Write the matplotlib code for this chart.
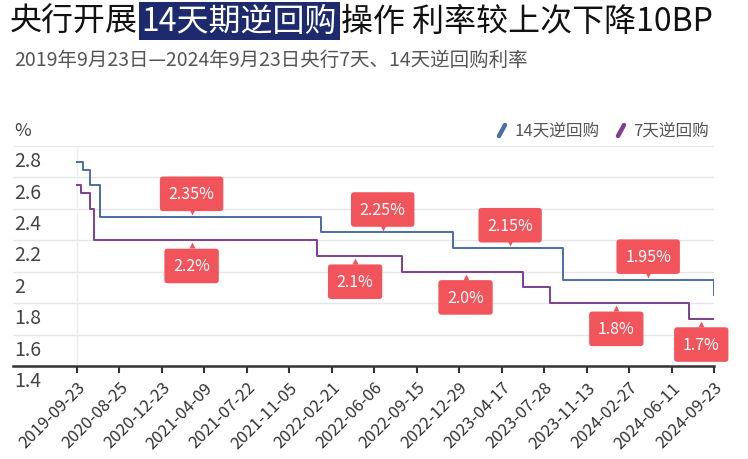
import matplotlib
matplotlib.use("Agg")
import matplotlib.pyplot as plt
from matplotlib import transforms

plt.rcParams['font.family'] = ['Noto Sans CJK SC', 'DejaVu Sans']

# category axis: 301 daily points, a label every 20 points
n_points = 301
tick_idx = list(range(0, 301, 20))
tick_labels = ['2019-09-23', '2020-08-25', '2020-12-23', '2021-04-09', '2021-07-22',
               '2021-11-05', '2022-02-21', '2022-06-06', '2022-09-15', '2022-12-29',
               '2023-04-17', '2023-07-28', '2023-11-13', '2024-02-27', '2024-06-11',
               '2024-09-23']

# step change points (category index, rate)
repo14_idx = [0, 3, 6, 11, 115, 177, 229, 300]
repo14_val = [2.70, 2.65, 2.55, 2.35, 2.25, 2.15, 1.95, 1.85]
repo7_idx = [0, 2, 6, 8, 113, 153, 210, 223, 288, 300]
repo7_val = [2.55, 2.50, 2.40, 2.20, 2.10, 2.00, 1.90, 1.80, 1.70, 1.70]

# value tags
lab14_idx = [54, 144, 204, 269]
lab14_val = [2.35, 2.25, 2.15, 1.95]
lab14_txt = ['2.35%', '2.25%', '2.15%', '1.95%']
lab7_idx = [54, 131, 183, 254, 294]
lab7_val = [2.20, 2.10, 2.00, 1.80, 1.70]
lab7_txt = ['2.2%', '2.1%', '2.0%', '1.8%', '1.7%']

yticks = [1.4, 1.6, 1.8, 2.0, 2.2, 2.4, 2.6, 2.8]
ytick_labels = ['1.4', '1.6', '1.8', '2', '2.2', '2.4', '2.6', '2.8']

BLUE = '#4a6fa5'
PURPLE = '#7e3f8f'
RED = '#f2545b'
NAVY = '#1e2a6e'

fig = plt.figure(figsize=(7.48, 4.60), dpi=100)
W, H = 748, 460
ax = fig.add_axes([13 / W, 1 - 367 / H, (714 - 13) / W, (367 - 147) / H])

x_left = -30.1
ax.set_xlim(x_left, 300)
ax.set_ylim(1.4, 2.8)

for s in ['top', 'right', 'left']:
    ax.spines[s].set_visible(False)
ax.spines['bottom'].set_color('#333333')
ax.spines['bottom'].set_linewidth(1.8)

for v in yticks[1:]:
    ax.axhline(v, color='#e4e6ea', lw=1, zorder=0)
ax.axvline(0, color='#eceef2', lw=1, zorder=0)

ax.step(repo14_idx, repo14_val, where='post', color=BLUE, lw=1.4, zorder=3)
ax.step(repo7_idx, repo7_val, where='post', color=PURPLE, lw=1.4, zorder=3)

ax.set_yticks([])
for v, t in zip(yticks, ytick_labels):
    ax.annotate(t, xy=(0, v), xycoords=('axes fraction', 'data'),
                xytext=(1, -3), textcoords='offset points',
                ha='left', va='top', fontsize=14, color='#444444')

ax.set_xticks(tick_idx)
ax.set_xticklabels(tick_labels, rotation=45, ha='right', rotation_mode='anchor',
                   fontsize=12, color='#333333')
ax.tick_params(axis='x', length=5, width=1.5, color='#333333', pad=4)


def tag(x, y, text, above):
    dy = 16.5 if above else -18.5
    ax.annotate(text, xy=(x, y), xytext=(0, dy), textcoords='offset points',
                ha='center', va='center', fontsize=11.5, color='white', zorder=6,
                bbox=dict(boxstyle='round,pad=0.55,rounding_size=0.2', fc=RED, ec='none'))
    off = 3.5 if above else -3.5
    tr = transforms.offset_copy(ax.transData, fig=fig, x=0, y=off, units='points')
    ax.plot([x], [y], marker='v' if above else '^', ms=5, color=RED,
            mec='none', transform=tr, zorder=5)


for x, y, t in zip(lab14_idx, lab14_val, lab14_txt):
    tag(x, y, t, True)
for x, y, t in zip(lab7_idx, lab7_val, lab7_txt):
    tag(x, y, t, False)

# "%" unit label
fig.text(14 / W, 1 - 131 / H, '%', fontsize=13, color='#444444', va='center', ha='left')

# legend with slanted icons
fig.lines.append(plt.Line2D([499 / W, 505 / W], [1 - 137 / H, 1 - 126 / H],
                            transform=fig.transFigure, color=BLUE, lw=3.2,
                            solid_capstyle='round'))
fig.text(515 / W, 1 - 131 / H, '14天逆回购', fontsize=12, color='#555555', va='center')
fig.lines.append(plt.Line2D([618 / W, 624 / W], [1 - 137 / H, 1 - 126 / H],
                            transform=fig.transFigure, color=PURPLE, lw=3.2,
                            solid_capstyle='round'))
fig.text(633 / W, 1 - 131 / H, '7天逆回购', fontsize=12, color='#555555', va='center')

# title in three pieces, middle one highlighted
fig.canvas.draw()
r = fig.canvas.get_renderer()
ty = 1 - 22 / H
t1 = fig.text(10 / W, ty, '央行开展', fontsize=23, color='#111111', va='center')
x1 = t1.get_window_extent(r).x1
t2 = fig.text(x1 / W + 0.005, ty, '14天期逆回购', fontsize=23, color='white', va='center',
              bbox=dict(boxstyle='square,pad=0.08', fc=NAVY, ec='none'))
x2 = t2.get_window_extent(r).x1
fig.text(x2 / W + 0.005, ty, '操作 利率较上次下降10BP', fontsize=23, color='#111111', va='center')

fig.text(14 / W, 1 - 60 / H, '2019年9月23日—2024年9月23日央行7天、14天逆回购利率',
         fontsize=14, color='#555555', va='center')

fig.savefig('out.png', dpi=100)
